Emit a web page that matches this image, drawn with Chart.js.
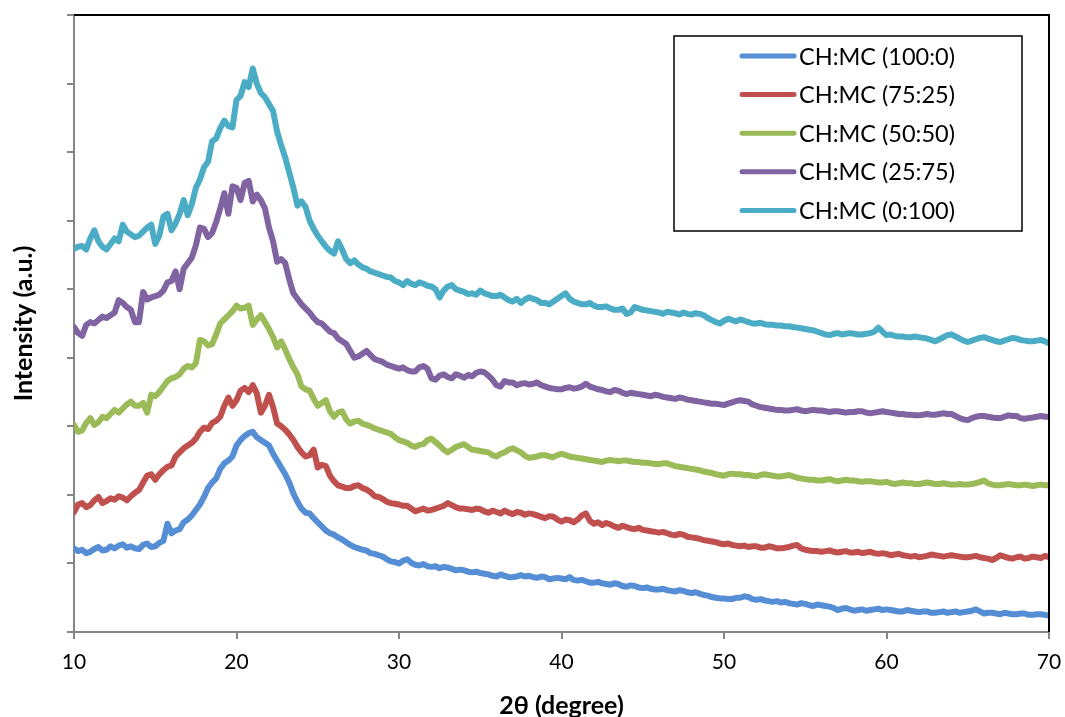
<!DOCTYPE html>
<html>
<head>
<meta charset="utf-8">
<title>XRD</title>
<script src="https://cdn.jsdelivr.net/npm/chart.js@4.4.1/dist/chart.umd.min.js"></script>
<style>
  html, body { margin: 0; padding: 0; background: #fff; }
  #xrd { display: block; }
</style>
</head>
<body>
<canvas id="xrd" width="1065" height="717"></canvas>
<script>
// 2-theta positions (degrees), 0.25 step
const angles = [
  10, 10.25, 10.5, 10.75, 11, 11.25, 11.5, 11.75, 12, 12.25,
  12.5, 12.75, 13, 13.25, 13.5, 13.75, 14, 14.25, 14.5, 14.75,
  15, 15.25, 15.5, 15.75, 16, 16.25, 16.5, 16.75, 17, 17.25,
  17.5, 17.75, 18, 18.25, 18.5, 18.75, 19, 19.25, 19.5, 19.75,
  20, 20.25, 20.5, 20.75, 21, 21.25, 21.5, 21.75, 22, 22.25,
  22.5, 22.75, 23, 23.25, 23.5, 23.75, 24, 24.25, 24.5, 24.75,
  25, 25.25, 25.5, 25.75, 26, 26.25, 26.5, 26.75, 27, 27.25,
  27.5, 27.75, 28, 28.25, 28.5, 28.75, 29, 29.25, 29.5, 29.75,
  30, 30.25, 30.5, 30.75, 31, 31.25, 31.5, 31.75, 32, 32.25,
  32.5, 32.75, 33, 33.25, 33.5, 33.75, 34, 34.25, 34.5, 34.75,
  35, 35.25, 35.5, 35.75, 36, 36.25, 36.5, 36.75, 37, 37.25,
  37.5, 37.75, 38, 38.25, 38.5, 38.75, 39, 39.25, 39.5, 39.75,
  40, 40.25, 40.5, 40.75, 41, 41.25, 41.5, 41.75, 42, 42.25,
  42.5, 42.75, 43, 43.25, 43.5, 43.75, 44, 44.25, 44.5, 44.75,
  45, 45.25, 45.5, 45.75, 46, 46.25, 46.5, 46.75, 47, 47.25,
  47.5, 47.75, 48, 48.25, 48.5, 48.75, 49, 49.25, 49.5, 49.75,
  50, 50.25, 50.5, 50.75, 51, 51.25, 51.5, 51.75, 52, 52.25,
  52.5, 52.75, 53, 53.25, 53.5, 53.75, 54, 54.25, 54.5, 54.75,
  55, 55.25, 55.5, 55.75, 56, 56.25, 56.5, 56.75, 57, 57.25,
  57.5, 57.75, 58, 58.25, 58.5, 58.75, 59, 59.25, 59.5, 59.75,
  60, 60.25, 60.5, 60.75, 61, 61.25, 61.5, 61.75, 62, 62.25,
  62.5, 62.75, 63, 63.25, 63.5, 63.75, 64, 64.25, 64.5, 64.75,
  65, 65.25, 65.5, 65.75, 66, 66.25, 66.5, 66.75, 67, 67.25,
  67.5, 67.75, 68, 68.25, 68.5, 68.75, 69, 69.25, 69.5, 69.75,
  70
];

// intensities (a.u., curves stacked with offsets)
const ch100 = [
  1.22, 1.18, 1.20, 1.15, 1.17, 1.21, 1.24, 1.19, 1.20, 1.25,
  1.22, 1.26, 1.28, 1.23, 1.25, 1.22, 1.21, 1.27, 1.29, 1.24,
  1.25, 1.30, 1.33, 1.58, 1.44, 1.48, 1.50, 1.60, 1.64, 1.70,
  1.78, 1.86, 1.97, 2.10, 2.18, 2.24, 2.38, 2.46, 2.50, 2.56,
  2.72, 2.80, 2.86, 2.90, 2.92, 2.84, 2.80, 2.76, 2.72, 2.60,
  2.50, 2.40, 2.30, 2.18, 2.02, 1.90, 1.80, 1.74, 1.73, 1.66,
  1.60, 1.54, 1.48, 1.44, 1.42, 1.38, 1.35, 1.31, 1.27, 1.24,
  1.22, 1.20, 1.19, 1.15, 1.14, 1.12, 1.10, 1.06, 1.03, 1.02,
  1.00, 1.04, 1.06, 1.01, 0.98, 0.97, 0.99, 0.96, 0.95, 0.96,
  0.93, 0.95, 0.94, 0.92, 0.90, 0.91, 0.90, 0.88, 0.87, 0.88,
  0.86, 0.85, 0.84, 0.82, 0.81, 0.84, 0.82, 0.80, 0.80, 0.81,
  0.83, 0.81, 0.82, 0.80, 0.79, 0.81, 0.80, 0.77, 0.78, 0.79,
  0.78, 0.77, 0.80, 0.76, 0.75, 0.76, 0.74, 0.72, 0.72, 0.73,
  0.71, 0.70, 0.69, 0.71, 0.70, 0.67, 0.66, 0.68, 0.67, 0.65,
  0.64, 0.65, 0.63, 0.62, 0.62, 0.63, 0.61, 0.60, 0.59, 0.61,
  0.60, 0.58, 0.57, 0.58, 0.56, 0.54, 0.53, 0.51, 0.50, 0.49,
  0.49, 0.48, 0.48, 0.50, 0.50, 0.52, 0.51, 0.48, 0.47, 0.48,
  0.46, 0.45, 0.44, 0.45, 0.43, 0.44, 0.42, 0.41, 0.40, 0.42,
  0.41, 0.39, 0.38, 0.40, 0.39, 0.38, 0.37, 0.35, 0.32, 0.34,
  0.35, 0.33, 0.31, 0.32, 0.33, 0.31, 0.32, 0.33, 0.34, 0.32,
  0.33, 0.32, 0.31, 0.30, 0.30, 0.32, 0.31, 0.30, 0.29, 0.30,
  0.30, 0.28, 0.28, 0.29, 0.30, 0.28, 0.29, 0.30, 0.28, 0.29,
  0.30, 0.31, 0.33, 0.30, 0.27, 0.28, 0.28, 0.27, 0.26, 0.28,
  0.27, 0.26, 0.26, 0.27, 0.27, 0.25, 0.25, 0.26, 0.26, 0.25,
  0.24
];
const ch75 = [
  1.75, 1.86, 1.88, 1.82, 1.85, 1.92, 1.97, 1.88, 1.91, 1.95,
  1.93, 1.98, 1.96, 1.92, 1.98, 2.03, 2.07, 2.18, 2.28, 2.30,
  2.22, 2.30, 2.36, 2.41, 2.43, 2.56, 2.62, 2.68, 2.72, 2.76,
  2.82, 2.92, 2.98, 2.96, 3.05, 3.08, 3.14, 3.30, 3.42, 3.30,
  3.38, 3.52, 3.56, 3.50, 3.60, 3.48, 3.20, 3.30, 3.46, 3.28,
  3.04, 3.00, 2.95, 2.88, 2.80, 2.70, 2.62, 2.56, 2.58, 2.66,
  2.40, 2.44, 2.42, 2.28, 2.20, 2.14, 2.12, 2.10, 2.10, 2.13,
  2.14, 2.10, 2.08, 2.04, 1.98, 1.97, 1.94, 1.90, 1.88, 1.87,
  1.86, 1.84, 1.84, 1.80, 1.76, 1.78, 1.80, 1.77, 1.78, 1.80,
  1.82, 1.84, 1.88, 1.85, 1.82, 1.80, 1.80, 1.79, 1.78, 1.80,
  1.79, 1.76, 1.74, 1.77, 1.75, 1.73, 1.77, 1.74, 1.72, 1.75,
  1.74, 1.71, 1.73, 1.72, 1.70, 1.68, 1.66, 1.69, 1.68, 1.64,
  1.61, 1.64, 1.63, 1.60, 1.64, 1.70, 1.73, 1.62, 1.58, 1.60,
  1.56, 1.59, 1.57, 1.54, 1.52, 1.55, 1.53, 1.51, 1.50, 1.52,
  1.49, 1.48, 1.47, 1.46, 1.45, 1.46, 1.44, 1.42, 1.41, 1.43,
  1.42, 1.39, 1.38, 1.37, 1.36, 1.34, 1.33, 1.32, 1.31, 1.29,
  1.28, 1.29, 1.27, 1.26, 1.25, 1.26, 1.24, 1.25, 1.25, 1.23,
  1.23, 1.25, 1.24, 1.22, 1.22, 1.23, 1.24, 1.26, 1.27, 1.22,
  1.20, 1.19, 1.18, 1.18, 1.17, 1.18, 1.19, 1.17, 1.16, 1.17,
  1.18, 1.16, 1.16, 1.17, 1.15, 1.16, 1.17, 1.15, 1.14, 1.15,
  1.14, 1.12, 1.13, 1.14, 1.12, 1.11, 1.10, 1.11, 1.09, 1.10,
  1.11, 1.13, 1.12, 1.11, 1.10, 1.11, 1.12, 1.11, 1.10, 1.09,
  1.09, 1.10, 1.11, 1.09, 1.08, 1.07, 1.05, 1.08, 1.12, 1.10,
  1.08, 1.07, 1.09, 1.10, 1.07, 1.08, 1.10, 1.09, 1.08, 1.11,
  1.09
];
const ch50 = [
  3.02, 2.92, 2.94, 3.05, 3.12, 3.02, 3.06, 3.14, 3.12, 3.18,
  3.24, 3.20, 3.26, 3.32, 3.36, 3.30, 3.30, 3.34, 3.20, 3.46,
  3.44, 3.50, 3.58, 3.66, 3.70, 3.72, 3.76, 3.84, 3.88, 3.86,
  3.92, 4.26, 4.24, 4.18, 4.20, 4.34, 4.50, 4.56, 4.62, 4.68,
  4.76, 4.72, 4.73, 4.76, 4.48, 4.56, 4.62, 4.52, 4.42, 4.30,
  4.15, 4.24, 4.12, 3.98, 3.86, 3.76, 3.58, 3.54, 3.52, 3.40,
  3.30, 3.34, 3.38, 3.22, 3.14, 3.20, 3.22, 3.10, 3.04, 3.07,
  3.08, 3.04, 3.02, 3.00, 2.97, 2.95, 2.93, 2.91, 2.89, 2.84,
  2.80, 2.78, 2.76, 2.72, 2.70, 2.73, 2.74, 2.80, 2.82, 2.77,
  2.72, 2.66, 2.62, 2.66, 2.70, 2.72, 2.74, 2.70, 2.66, 2.65,
  2.64, 2.63, 2.62, 2.58, 2.56, 2.60, 2.62, 2.66, 2.68, 2.65,
  2.62, 2.57, 2.54, 2.55, 2.56, 2.58, 2.58, 2.56, 2.55, 2.58,
  2.60, 2.58, 2.56, 2.55, 2.54, 2.53, 2.52, 2.51, 2.50, 2.49,
  2.48, 2.50, 2.51, 2.50, 2.49, 2.50, 2.50, 2.49, 2.48, 2.48,
  2.47, 2.47, 2.46, 2.45, 2.45, 2.46, 2.46, 2.44, 2.42, 2.41,
  2.40, 2.39, 2.38, 2.37, 2.36, 2.34, 2.33, 2.32, 2.30, 2.29,
  2.28, 2.30, 2.31, 2.30, 2.30, 2.29, 2.29, 2.28, 2.27, 2.29,
  2.30, 2.29, 2.28, 2.27, 2.27, 2.28, 2.29, 2.27, 2.25, 2.24,
  2.23, 2.22, 2.22, 2.21, 2.21, 2.22, 2.23, 2.21, 2.20, 2.21,
  2.22, 2.21, 2.21, 2.20, 2.19, 2.20, 2.20, 2.19, 2.18, 2.18,
  2.19, 2.17, 2.16, 2.17, 2.18, 2.17, 2.17, 2.16, 2.16, 2.17,
  2.18, 2.17, 2.16, 2.16, 2.17, 2.16, 2.15, 2.15, 2.16, 2.15,
  2.15, 2.16, 2.17, 2.19, 2.21, 2.17, 2.15, 2.14, 2.14, 2.15,
  2.16, 2.15, 2.14, 2.14, 2.15, 2.14, 2.13, 2.14, 2.15, 2.14,
  2.14
];
const ch25 = [
  4.45, 4.36, 4.32, 4.48, 4.52, 4.50, 4.55, 4.60, 4.58, 4.62,
  4.66, 4.84, 4.80, 4.74, 4.70, 4.52, 4.52, 4.96, 4.85, 4.88,
  4.90, 4.92, 4.98, 5.10, 5.12, 5.26, 5.00, 5.30, 5.38, 5.46,
  5.64, 5.90, 5.88, 5.76, 5.82, 5.98, 6.18, 6.40, 6.10, 6.50,
  6.48, 6.30, 6.55, 6.58, 6.28, 6.38, 6.30, 6.18, 5.90, 5.70,
  5.40, 5.44, 5.38, 5.14, 4.94, 4.86, 4.78, 4.72, 4.66, 4.58,
  4.52, 4.50, 4.44, 4.38, 4.36, 4.28, 4.24, 4.20, 4.10, 4.00,
  4.02, 4.06, 4.10, 4.04, 3.98, 3.96, 3.94, 3.90, 3.88, 3.86,
  3.84, 3.86, 3.82, 3.80, 3.80, 3.86, 3.88, 3.84, 3.70, 3.68,
  3.74, 3.76, 3.72, 3.70, 3.76, 3.74, 3.71, 3.75, 3.73, 3.78,
  3.80, 3.79, 3.74, 3.68, 3.60, 3.58, 3.66, 3.64, 3.64, 3.60,
  3.62, 3.63, 3.61, 3.62, 3.64, 3.60, 3.58, 3.56, 3.55, 3.54,
  3.54, 3.56, 3.57, 3.55, 3.56, 3.58, 3.62, 3.58, 3.56, 3.54,
  3.53, 3.51, 3.50, 3.53, 3.52, 3.49, 3.47, 3.49, 3.48, 3.47,
  3.46, 3.45, 3.44, 3.46, 3.45, 3.43, 3.42, 3.41, 3.40, 3.42,
  3.41, 3.39, 3.38, 3.37, 3.36, 3.35, 3.34, 3.33, 3.33, 3.32,
  3.31, 3.33, 3.35, 3.37, 3.38, 3.37, 3.36, 3.32, 3.30, 3.28,
  3.27, 3.26, 3.25, 3.24, 3.24, 3.23, 3.23, 3.24, 3.25, 3.23,
  3.22, 3.23, 3.24, 3.23, 3.23, 3.22, 3.21, 3.22, 3.22, 3.21,
  3.20, 3.21, 3.21, 3.22, 3.22, 3.20, 3.19, 3.20, 3.21, 3.22,
  3.21, 3.20, 3.19, 3.18, 3.18, 3.17, 3.17, 3.16, 3.16, 3.17,
  3.18, 3.17, 3.17, 3.18, 3.19, 3.18, 3.18, 3.15, 3.12, 3.10,
  3.09, 3.12, 3.14, 3.15, 3.15, 3.14, 3.13, 3.12, 3.12, 3.14,
  3.16, 3.15, 3.15, 3.12, 3.11, 3.12, 3.13, 3.14, 3.15, 3.14,
  3.14
];
const ch0 = [
  5.59, 5.62, 5.63, 5.58, 5.74, 5.86, 5.70, 5.62, 5.58, 5.66,
  5.74, 5.70, 5.94, 5.84, 5.80, 5.76, 5.78, 5.84, 5.90, 5.94,
  5.66, 5.78, 6.06, 6.10, 5.86, 5.96, 6.10, 6.30, 6.08, 6.24,
  6.48, 6.60, 6.78, 6.86, 7.16, 7.20, 7.35, 7.46, 7.38, 7.36,
  7.76, 7.82, 8.02, 7.95, 8.22, 8.00, 7.86, 7.80, 7.70, 7.60,
  7.30, 7.10, 6.92, 6.70, 6.48, 6.22, 6.28, 6.20, 6.00, 5.88,
  5.78, 5.70, 5.62, 5.56, 5.52, 5.70, 5.58, 5.44, 5.38, 5.42,
  5.36, 5.32, 5.30, 5.26, 5.24, 5.22, 5.20, 5.18, 5.17, 5.12,
  5.10, 5.06, 5.12, 5.08, 5.06, 5.10, 5.08, 5.05, 5.04, 5.00,
  4.88, 4.98, 5.04, 5.06, 5.00, 4.98, 4.96, 4.93, 4.94, 4.92,
  4.98, 4.94, 4.92, 4.90, 4.90, 4.92, 4.88, 4.84, 4.82, 4.86,
  4.80, 4.85, 4.88, 4.86, 4.84, 4.80, 4.80, 4.78, 4.82, 4.86,
  4.90, 4.94, 4.86, 4.82, 4.80, 4.78, 4.78, 4.80, 4.76, 4.74,
  4.74, 4.75, 4.72, 4.70, 4.70, 4.72, 4.64, 4.66, 4.74, 4.72,
  4.70, 4.69, 4.68, 4.67, 4.66, 4.64, 4.67, 4.66, 4.65, 4.63,
  4.66, 4.64, 4.63, 4.65, 4.64, 4.62, 4.58, 4.55, 4.52, 4.50,
  4.54, 4.57, 4.55, 4.53, 4.56, 4.54, 4.52, 4.50, 4.50, 4.51,
  4.49, 4.48, 4.48, 4.47, 4.47, 4.46, 4.46, 4.45, 4.44, 4.43,
  4.42, 4.41, 4.40, 4.38, 4.36, 4.34, 4.33, 4.35, 4.36, 4.34,
  4.35, 4.36, 4.35, 4.34, 4.34, 4.35, 4.36, 4.38, 4.44, 4.38,
  4.33, 4.34, 4.32, 4.31, 4.31, 4.30, 4.30, 4.31, 4.30, 4.29,
  4.28, 4.26, 4.24, 4.27, 4.30, 4.33, 4.34, 4.31, 4.28, 4.25,
  4.23, 4.25, 4.27, 4.29, 4.30, 4.28, 4.26, 4.24, 4.23, 4.25,
  4.27, 4.29, 4.28, 4.26, 4.25, 4.24, 4.24, 4.25, 4.26, 4.24,
  4.21
];

const names = ['CH:MC (100:0)', 'CH:MC (75:25)', 'CH:MC (50:50)', 'CH:MC (25:75)', 'CH:MC (0:100)'];
const colors = ['#558ed5', '#c0504d', '#9bbb59', '#8064a2', '#4bacc6'];
const series = [ch100, ch75, ch50, ch25, ch0];

const axisGrey = '#868686';
const fontFace = 'Lato, "Open Sans", sans-serif';

// boxed legend drawn in the upper right of the plot
const boxLegend = {
  id: 'boxLegend',
  afterDraw(chart) {
    const {ctx, chartArea} = chart;
    const right = chartArea.right - 27;
    const top = chartArea.top + 21;
    const w = 348, h = 195;
    const left = right - w;
    ctx.save();
    ctx.strokeStyle = '#000';
    ctx.lineWidth = 1.5;
    ctx.strokeRect(left, top, w, h);
    ctx.font = '23.5px ' + fontFace;
    ctx.textBaseline = 'middle';
    ctx.textAlign = 'left';
    chart.data.datasets.forEach((ds, i) => {
      const y = top + 20 + i * 38.6;
      ctx.strokeStyle = ds.borderColor;
      ctx.lineWidth = 5;
      ctx.lineCap = 'round';
      ctx.beginPath();
      ctx.moveTo(left + 68, y);
      ctx.lineTo(left + 120, y);
      ctx.stroke();
      ctx.fillStyle = '#000';
      ctx.fillText(ds.label, left + 125, y + 1);
    });
    ctx.restore();
  }
};

// black frame on the top and right edges of the plot
const frame = {
  id: 'frame',
  afterDatasetsDraw(chart) {
    const {ctx, chartArea: a} = chart;
    ctx.save();
    ctx.strokeStyle = '#000';
    ctx.lineWidth = 2;
    ctx.beginPath();
    ctx.moveTo(a.left, a.top);
    ctx.lineTo(a.right, a.top);
    ctx.lineTo(a.right, a.bottom);
    ctx.stroke();
    ctx.restore();
  }
};

new Chart(document.getElementById('xrd'), {
  type: 'line',
  data: {
    datasets: series.map((vals, i) => ({
      label: names[i],
      data: vals.map((v, j) => ({x: angles[j], y: v})),
      borderColor: colors[i],
      backgroundColor: colors[i],
      borderWidth: 6,
      borderJoinStyle: 'round',
      borderCapStyle: 'round',
      pointRadius: 0,
      tension: 0,
      fill: false
    }))
  },
  options: {
    responsive: false,
    animation: false,
    layout: { padding: { left: 0, top: 15, right: 16, bottom: 0 } },
    plugins: {
      legend: { display: false },
      tooltip: { enabled: false }
    },
    scales: {
      x: {
        type: 'linear',
        min: 10,
        max: 70,
        afterFit: (s) => { s.height = 85; s.paddingLeft = 0; s.paddingRight = 0; },
        ticks: { stepSize: 10, color: '#000', padding: 11, font: { family: fontFace, size: 21 } },
        grid: { drawOnChartArea: false, drawTicks: true, tickLength: 7, color: axisGrey, lineWidth: 2 },
        border: { color: axisGrey, width: 2 },
        title: {
          display: true,
          text: '2θ (degree)',
          color: '#000',
          font: { family: fontFace, size: 25, weight: 'bold' },
          padding: { top: 0, bottom: -4 }
        }
      },
      y: {
        min: 0,
        max: 9,
        afterFit: (s) => { s.width = 74; s.paddingTop = 0; s.paddingBottom = 0; },
        ticks: { stepSize: 1, display: false },
        grid: { drawOnChartArea: false, drawTicks: true, tickLength: 7, color: axisGrey, lineWidth: 2 },
        border: { color: axisGrey, width: 2 },
        title: {
          display: true,
          text: 'Intensity (a.u.)',
          color: '#000',
          font: { family: fontFace, size: 25, weight: 'bold' },
          padding: { top: 9, bottom: 0 }
        }
      }
    }
  },
  plugins: [boxLegend, frame]
});
</script>
</body>
</html>
